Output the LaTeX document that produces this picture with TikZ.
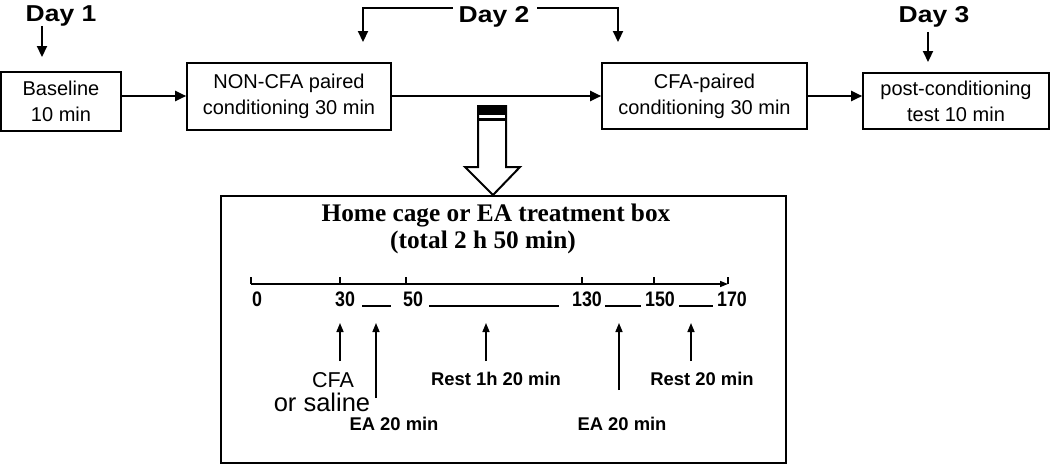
\documentclass[tikz,border=0pt]{standalone}
\usepackage{fontspec}
\setmainfont{Liberation Sans}
\newfontfamily\serifb{Liberation Serif}
\newfontfamily\dayf[FakeStretch=1.15]{Liberation Sans}
\newfontfamily\narrowf[FakeStretch=0.85]{Liberation Sans}
\usetikzlibrary{arrows.meta}

\tikzset{
  stagebox/.style={draw, line width=1.6pt, align=center, inner sep=0pt,
    font=\fontsize{20}{26}\selectfont},
  flow/.style={line width=2.2pt, -{Triangle[length=11pt,width=10pt]}},
  daylbl/.style={font=\dayf\bfseries\fontsize{23}{26}\selectfont, anchor=base, inner sep=0pt},
  num/.style={font=\narrowf\bfseries\fontsize{21}{22}\selectfont, anchor=base, inner sep=0pt},
  lbl/.style={font=\bfseries\fontsize{18.4}{20}\selectfont, anchor=base, inner sep=0pt},
  titl/.style={font=\serifb\bfseries\fontsize{25.3}{28}\selectfont, anchor=base, inner sep=0pt},
  up/.style={line width=1.5pt, -{Triangle[length=9pt,width=7pt]}},
  tline/.style={line width=1.5pt},
  uline/.style={line width=1.3pt},
}

\begin{document}
\begin{tikzpicture}[x=1pt,y=-1pt]
\useasboundingbox (0,0) rectangle (1050,464);

% top row of stages
\node[stagebox, minimum width=120pt, minimum height=59pt] (base) at (61,101.5) {Baseline\\10 min};
\node[stagebox, minimum width=204pt, minimum height=67pt] (noncfa) at (289,96.5) {NON-CFA paired\\conditioning 30 min};
\node[stagebox, minimum width=205pt, minimum height=66pt] (cfa) at (704.5,96) {CFA-paired\\conditioning 30 min};
\node[stagebox, minimum width=186pt, minimum height=56pt] (post) at (956,101) {post-conditioning\\test 10 min};

\draw[flow] (base.east |- 0,96) -- (noncfa.west |- 0,96);
\draw[flow] (noncfa.east |- 0,96) -- (cfa.west |- 0,96);
\draw[flow] (cfa.east |- 0,96) -- (post.west |- 0,96);

% day labels
\node[daylbl] (d1) at (61,21) {Day 1};
\node[daylbl] (d2) at (494,22) {Day 2};
\node[daylbl] (d3) at (934,22) {Day 3};

\coordinate (d1tip) at (42,57);
\coordinate (d3tip) at (928,62);
\coordinate (d2l) at (363,42);
\coordinate (d2r) at (618,42);

\draw[flow] (d1.south -| d1tip) -- (d1tip);
\draw[flow, shorten <=5pt] (d3.south -| d3tip) -- (d3tip);
\draw[flow] (d2.west |- 0,8) ++(-6,0) -- (d2l |- 0,8) -- (d2l);
\draw[flow] (d2.east |- 0,8) ++(8,0) -- (d2r |- 0,8) -- (d2r);

% hollow arrow
\draw[line width=2pt, fill=white, line join=miter]
  (478,106) -- (506,106) -- (506,167) -- (520,167) -- (493,195) -- (465,167) -- (478,167) -- cycle;
\fill (478,105) rectangle (506,115);
\fill (478,118) rectangle (506,121);

% bottom box
\node[draw, line width=2pt, minimum width=565pt, minimum height=267pt, inner sep=0pt] (home) at (503.5,329.5) {};
\node[titl] (t1) at (496,221) {Home cage or EA treatment box};
\node[titl] (t2) at (483,248) {(total 2 h 50 min)};

% timeline
\coordinate (a0) at (251,284);
\coordinate (aend) at (728,284);
\draw[tline, -{Triangle[length=8pt,width=6pt]}] (a0) -- (aend);
\foreach \x in {251,340,406,582,654,728}
  \draw[tline] (\x,277) -- (\x,284);

\node[num] (n0) at (257,306) {0};
\node[num] (n30) at (345,306) {30};
\node[num] (n50) at (413,306) {50};
\node[num] (n130) at (587,306) {130};
\node[num] (n150) at (660,306) {150};
\node[num] (n170) at (732,306) {170};

\draw[uline] (362,306) -- (391,306);
\draw[uline] (429,306) -- (559,306);
\draw[uline] (605,306) -- (641,306);
\draw[uline] (679,306) -- (713,306);

% event arrows
\coordinate (e1) at (340,323);
\coordinate (e2) at (376,323);
\coordinate (e3) at (486,323);
\coordinate (e4) at (619,323);
\coordinate (e5) at (691,323);
\draw[up] (340,361) -- (e1);
\draw[up] (376,398) -- (e2);
\draw[up] (486,361) -- (e3);
\draw[up] (619,390) -- (e4);
\draw[up] (691,361) -- (e5);

% event labels
\node[font=\fontsize{21.5}{24}\selectfont, anchor=base, inner sep=0pt, text depth=0pt] (lcfa) at (333,387) {CFA};
\node[font=\fontsize{25.5}{28}\selectfont, anchor=base, inner sep=0pt] (lsal) at (322,411) {or saline};
\node[lbl] (lea1) at (394,430) {EA 20 min};
\node[lbl] (lrest1) at (496,385) {Rest 1h 20 min};
\node[lbl] (lea2) at (622,430) {EA 20 min};
\node[lbl] (lrest2) at (702,385) {Rest 20 min};
\end{tikzpicture}
\end{document}
